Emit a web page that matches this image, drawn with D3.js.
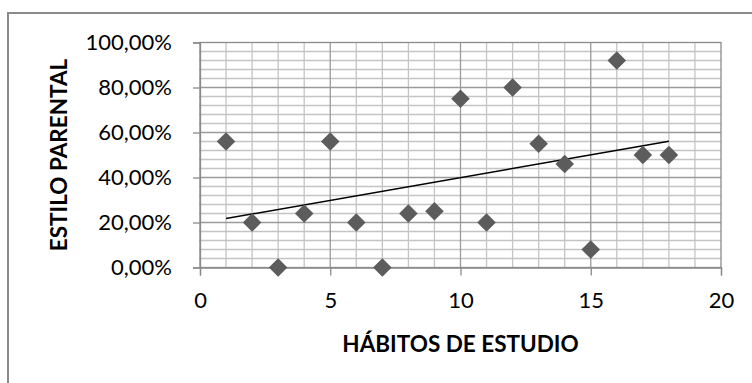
<!DOCTYPE html>
<html>
<head>
<meta charset="utf-8">
<script src="https://cdn.jsdelivr.net/npm/d3@7"></script>
<style>
  html, body { margin: 0; padding: 0; background: #fff; }
  svg { display: block; }
  text { font-family: "Lato", "Open Sans", sans-serif; fill: #000; }
</style>
</head>
<body>
<svg id="chart" width="752" height="383"></svg>
<script>
// Hábitos de estudio (x) vs. estilo parental (y, proportion)
const habitos = [1, 2, 3, 4, 5, 6, 7, 8, 9, 10, 11, 12, 13, 14, 15, 16, 17, 18];
const estilo = [0.56, 0.20, 0.00, 0.24, 0.56, 0.20, 0.00, 0.24, 0.25, 0.75,
                0.20, 0.80, 0.55, 0.46, 0.08, 0.92, 0.50, 0.50];
const xTicks = [0, 5, 10, 15, 20];
const yTicks = [0, 0.2, 0.4, 0.6, 0.8, 1.0];
const xTitle = "HÁBITOS DE ESTUDIO";
const yTitle = "ESTILO PARENTAL";

const svg = d3.select("#chart");
const W = 752, H = 383;
const plot = { left: 200, right: 721, top: 42.5, bottom: 267.5 };

const x = d3.scaleLinear().domain([0, 20]).range([plot.left, plot.right]);
const y = d3.scaleLinear().domain([0, 1]).range([plot.bottom, plot.top]);

// chart-area frame (open on the right and bottom edges)
svg.append("path")
  .attr("d", `M8,${H + 5} L8,13 L${W + 5},13`)
  .attr("fill", "none").attr("stroke", "#8a8a8a").attr("stroke-width", 2);

const grid = svg.append("g");
// minor grid
const xMinor = d3.range(1, 20).filter(v => v % 5 !== 0);
const yMinor = d3.range(1, 25).map(i => i * 0.04).filter((v, i) => (i + 1) % 5 !== 0);
grid.selectAll(".vx").data(xMinor).join("line")
  .attr("x1", d => x(d)).attr("x2", d => x(d))
  .attr("y1", plot.top).attr("y2", plot.bottom)
  .attr("stroke", "#c4c4c4").attr("stroke-width", 1.3);
grid.selectAll(".hy").data(yMinor).join("line")
  .attr("x1", plot.left - 1).attr("x2", plot.right)
  .attr("y1", d => y(d)).attr("y2", d => y(d))
  .attr("stroke", "#c4c4c4").attr("stroke-width", 1.3);
// major grid
grid.selectAll(".vX").data([5, 10, 15]).join("line")
  .attr("x1", d => x(d)).attr("x2", d => x(d))
  .attr("y1", plot.top).attr("y2", plot.bottom)
  .attr("stroke", "#9a9a9a").attr("stroke-width", 1.3);
grid.selectAll(".hY").data([0.2, 0.4, 0.6, 0.8]).join("line")
  .attr("x1", plot.left).attr("x2", plot.right)
  .attr("y1", d => y(d)).attr("y2", d => y(d))
  .attr("stroke", "#9a9a9a").attr("stroke-width", 1.3);
// plot border
svg.append("rect")
  .attr("x", plot.left).attr("y", plot.top)
  .attr("width", plot.right - plot.left).attr("height", plot.bottom - plot.top)
  .attr("fill", "none").attr("stroke", "#8a8a8a").attr("stroke-width", 1.3);

// axes
const fmtPct = v => d3.format(".2f")(v * 100).replace(".", ",") + "%";
const yAxis = d3.axisLeft(y).tickValues(yTicks).tickFormat(fmtPct).tickSize(7).tickPadding(21);
const xAxis = d3.axisBottom(x).tickValues(xTicks).tickFormat(d3.format("d")).tickSize(8).tickPadding(17);

const gy = svg.append("g").attr("transform", `translate(${plot.left},0)`).call(yAxis);
const gx = svg.append("g").attr("transform", `translate(0,${plot.bottom})`).call(xAxis);
[gx, gy].forEach(g => {
  g.select(".domain").attr("stroke", "#8a8a8a").attr("stroke-width", 1.3);
  g.selectAll(".tick line").attr("stroke", "#8a8a8a").attr("stroke-width", 1.3);
  g.selectAll(".tick text").attr("font-size", 22).attr("fill", "#000");
});

// trend line (least squares)
const mx = d3.mean(habitos), my = d3.mean(estilo);
const sxy = d3.sum(habitos, (v, i) => (v - mx) * (estilo[i] - my));
const sxx = d3.sum(habitos, v => (v - mx) * (v - mx));
const slope = sxy / sxx, icpt = my - slope * mx;
const x0 = d3.min(habitos), x1 = d3.max(habitos);
svg.append("line")
  .attr("x1", x(x0)).attr("y1", y(icpt + slope * x0))
  .attr("x2", x(x1)).attr("y2", y(icpt + slope * x1))
  .attr("stroke", "#000").attr("stroke-width", 1.5);

// points (diamond markers)
const diamond = d3.symbol().type(d3.symbolDiamond2).size(220);
svg.append("g").selectAll("path").data(habitos).join("path")
  .attr("d", diamond)
  .attr("transform", (d, i) => `translate(${x(d)},${y(estilo[i])})`)
  .attr("fill", "#5c5c5c");

// axis titles
svg.append("text")
  .attr("x", x(10)).attr("y", 352)
  .attr("text-anchor", "middle")
  .attr("font-size", 22.5).attr("font-weight", "bold")
  .text(xTitle);
svg.append("text")
  .attr("transform", `translate(67,${(plot.top + plot.bottom) / 2}) rotate(-90)`)
  .attr("text-anchor", "middle")
  .attr("font-size", 22.5).attr("font-weight", "bold")
  .text(yTitle);
</script>
</body>
</html>
